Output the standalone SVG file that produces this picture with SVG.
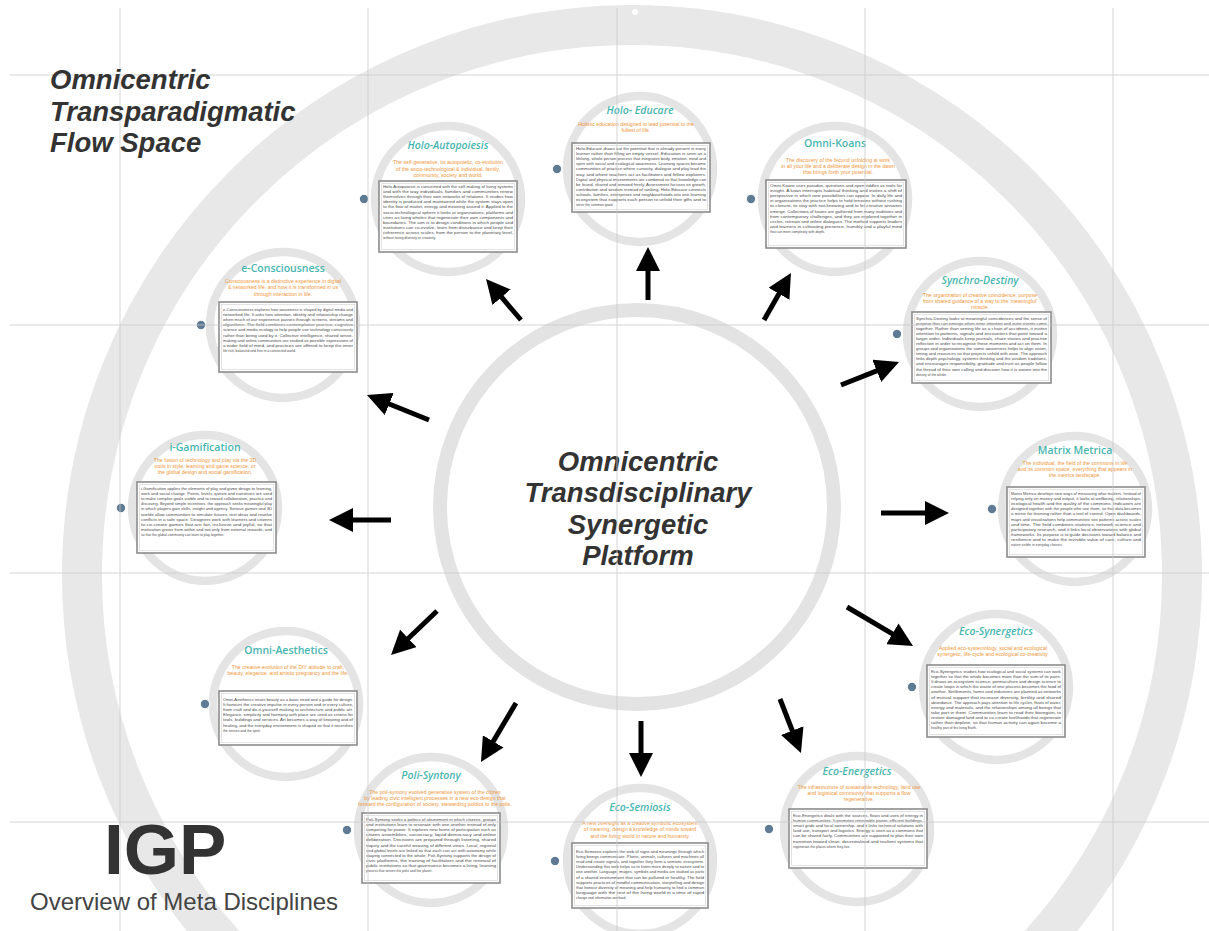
<svg xmlns="http://www.w3.org/2000/svg" width="1209" height="931" viewBox="0 0 1209 931">
  <style>
    .grid { stroke: #c9c9c9; stroke-width: 1; opacity: 0.75; }
    .big-ring { fill: none; stroke: #e8e8e8; stroke-width: 40; }
    .hub-ring { fill: #fff; stroke: #e3e3e3; stroke-width: 14; }
    .hub-text { font-family: "Liberation Sans", Arial, sans-serif; font-size: 27.5px; font-weight: bold; font-style: italic; fill: #333; text-anchor: middle; }
    .head-text { font-family: "Liberation Sans", Arial, sans-serif; font-size: 27.5px; font-weight: bold; font-style: italic; fill: #333; }
    .node-ring { fill: #fff; stroke: #e4e4e4; stroke-width: 8.5; }
    .title { font-family: "Open Sans", "Liberation Sans", sans-serif; font-size: 10.5px; font-weight: 600; fill: #48b6b0; text-anchor: middle; }
    .it { font-style: italic; }
    .sub { font-family: "Liberation Sans", Arial, sans-serif; font-size: 5.2px; fill: #f0963a; text-anchor: middle; }
    .card { fill: #fff; stroke: #8c8c8c; stroke-width: 1.6; }
    .card-in { fill: none; stroke: #e2e2e2; stroke-width: 1; }
    .body { font-family: "Liberation Sans", Arial, sans-serif; font-size: 3.4px; fill: #4a4a4a; }
    .dot { fill: #5e7b93; stroke: #fff; stroke-width: 1.2; }
    .arrow { fill: none; stroke: #000; stroke-width: 5; marker-end: url(#head); }
  </style>
  <defs>
    <marker id="head" markerUnits="userSpaceOnUse" markerWidth="24" markerHeight="24" refX="2" refY="12" orient="auto">
      <path d="M0,0 L24,12 L0,24 z" fill="#000"/>
    </marker>
  </defs>

  <rect width="1209" height="931" fill="#fff"/>

  <!-- outer flow ring -->
  <circle class="big-ring" cx="632" cy="575" r="550"/>
  <circle cx="635" cy="12" r="3" fill="#fff"/>

  <!-- central platform -->
  <g id="hub">
    <circle class="hub-ring" cx="637" cy="507" r="197"/>
    <text class="hub-text" x="638" y="471">Omnicentric</text>
    <text class="hub-text" x="638" y="502">Transdisciplinary</text>
    <text class="hub-text" x="638" y="534">Synergetic</text>
    <text class="hub-text" x="638" y="565">Platform</text>
  </g>

  <!-- Holo-Autopoiesis -->
  <g id="node-holo-autopoiesis">
    <circle class="node-ring" cx="448" cy="199" r="73"/>
    <text class="title it" x="448" y="149">Holo-Autopoiesis</text>
    <text class="sub" x="448" y="164">The self-generative, its autopoietic, co-evolution</text>
    <text class="sub" x="448" y="170.5">of the socio-technological &amp; individual, family,</text>
    <text class="sub" x="448" y="177">community, society and world.</text>
    <rect class="card" x="379" y="181" width="138" height="71"/>
    <rect class="card-in" x="381.5" y="183.5" width="133" height="66"/>
    <g class="body">
      <text x="383" y="188" textLength="130" lengthAdjust="spacingAndGlyphs">Holo-Autopoiesis is concerned with the self-making of living systems</text>
      <text x="383" y="193.1" textLength="130" lengthAdjust="spacingAndGlyphs">and with the way individuals, families and communities renew</text>
      <text x="383" y="198.2" textLength="130" lengthAdjust="spacingAndGlyphs">themselves through their own networks of relations. It studies how</text>
      <text x="383" y="203.3" textLength="130" lengthAdjust="spacingAndGlyphs">identity is produced and maintained while the system stays open</text>
      <text x="383" y="208.4" textLength="130" lengthAdjust="spacingAndGlyphs">to the flow of matter, energy and meaning around it. Applied to the</text>
      <text x="383" y="213.5" textLength="130" lengthAdjust="spacingAndGlyphs">socio-technological sphere it looks at organisations, platforms and</text>
      <text x="383" y="218.6" textLength="130" lengthAdjust="spacingAndGlyphs">cities as living wholes that regenerate their own components and</text>
      <text x="383" y="223.7" textLength="130" lengthAdjust="spacingAndGlyphs">boundaries. The aim is to design conditions in which people and</text>
      <text x="383" y="228.8" textLength="130" lengthAdjust="spacingAndGlyphs">institutions can co-evolve, learn from disturbance and keep their</text>
      <text x="383" y="233.9" textLength="130" lengthAdjust="spacingAndGlyphs">coherence across scales, from the person to the planetary level,</text>
      <text x="383" y="239">without losing diversity or creativity.</text>
    </g>
    <circle class="dot" cx="364" cy="199" r="4.8"/>
  </g>

  <!-- Holo-Educare -->
  <g id="node-holo-educare">
    <circle class="node-ring" cx="640" cy="169" r="73"/>
    <text class="title it" x="640" y="114">Holo- Educare</text>
    <text class="sub" x="636" y="126">Holistic education designed to lead potential to the</text>
    <text class="sub" x="636" y="132">fullest of life.</text>
    <rect class="card" x="572" y="143" width="138" height="69"/>
    <rect class="card-in" x="574.5" y="145.5" width="133" height="64"/>
    <g class="body">
      <text x="576" y="150" textLength="130" lengthAdjust="spacingAndGlyphs">Holo-Educare draws out the potential that is already present in every</text>
      <text x="576" y="155.1" textLength="130" lengthAdjust="spacingAndGlyphs">learner rather than filling an empty vessel. Education is seen as a</text>
      <text x="576" y="160.2" textLength="130" lengthAdjust="spacingAndGlyphs">lifelong, whole-person process that integrates body, emotion, mind and</text>
      <text x="576" y="165.3" textLength="130" lengthAdjust="spacingAndGlyphs">spirit with social and ecological awareness. Learning spaces become</text>
      <text x="576" y="170.4" textLength="130" lengthAdjust="spacingAndGlyphs">communities of practice where curiosity, dialogue and play lead the</text>
      <text x="576" y="175.5" textLength="130" lengthAdjust="spacingAndGlyphs">way, and where teachers act as facilitators and fellow explorers.</text>
      <text x="576" y="180.6" textLength="130" lengthAdjust="spacingAndGlyphs">Digital and physical environments are combined so that knowledge can</text>
      <text x="576" y="185.7" textLength="130" lengthAdjust="spacingAndGlyphs">be found, shared and remixed freely. Assessment focuses on growth,</text>
      <text x="576" y="190.8" textLength="130" lengthAdjust="spacingAndGlyphs">contribution and wisdom instead of ranking. Holo-Educare connects</text>
      <text x="576" y="195.9" textLength="130" lengthAdjust="spacingAndGlyphs">schools, families, enterprises and neighbourhoods into one learning</text>
      <text x="576" y="201" textLength="130" lengthAdjust="spacingAndGlyphs">ecosystem that supports each person to unfold their gifts and to</text>
      <text x="576" y="206.1">serve the common good.</text>
    </g>
    <circle class="dot" cx="557" cy="169" r="4.8"/>
  </g>

  <!-- Omni-Koans -->
  <g id="node-omni-koans">
    <circle class="node-ring" cx="835" cy="199" r="73"/>
    <text class="title" x="835" y="147">Omni-Koans</text>
    <text class="sub" x="838" y="162">The discovery of the fecund unfolding at work</text>
    <text class="sub" x="838" y="168">in all your life and a deliberate design in the dawn</text>
    <text class="sub" x="838" y="174">that brings forth your potential.</text>
    <rect class="card" x="766" y="180" width="140" height="68"/>
    <rect class="card-in" x="768.5" y="182.5" width="135" height="63"/>
    <g class="body">
      <text x="770" y="187" textLength="132" lengthAdjust="spacingAndGlyphs">Omni-Koans uses paradox, questions and open riddles as tools for</text>
      <text x="770" y="192.1" textLength="132" lengthAdjust="spacingAndGlyphs">insight. A koan interrupts habitual thinking and invites a shift of</text>
      <text x="770" y="197.2" textLength="132" lengthAdjust="spacingAndGlyphs">perspective in which new possibilities can appear. In daily life and</text>
      <text x="770" y="202.3" textLength="132" lengthAdjust="spacingAndGlyphs">in organisations the practice helps to hold tensions without rushing</text>
      <text x="770" y="207.4" textLength="132" lengthAdjust="spacingAndGlyphs">to closure, to stay with not-knowing and to let creative answers</text>
      <text x="770" y="212.5" textLength="132" lengthAdjust="spacingAndGlyphs">emerge. Collections of koans are gathered from many traditions and</text>
      <text x="770" y="217.6" textLength="132" lengthAdjust="spacingAndGlyphs">from contemporary challenges, and they are explored together in</text>
      <text x="770" y="222.7" textLength="132" lengthAdjust="spacingAndGlyphs">circles, retreats and online dialogues. The method supports leaders</text>
      <text x="770" y="227.8" textLength="132" lengthAdjust="spacingAndGlyphs">and learners in cultivating presence, humility and a playful mind</text>
      <text x="770" y="232.9">that can meet complexity with depth.</text>
    </g>
    <circle class="dot" cx="751" cy="199" r="4.8"/>
  </g>

  <!-- e-Consciousness -->
  <g id="node-e-consciousness">
    <circle class="node-ring" cx="283" cy="325" r="73"/>
    <text class="title" x="283" y="272">e-Consciousness</text>
    <text class="sub" x="283" y="283">Consciousness is a distinctive experience in digital</text>
    <text class="sub" x="283" y="289">&amp; networked life, and how it is transformed in us</text>
    <text class="sub" x="283" y="295.5">through interaction in life.</text>
    <rect class="card" x="219" y="302" width="138" height="70"/>
    <rect class="card-in" x="221.5" y="304.5" width="133" height="65"/>
    <g class="body">
      <text x="223" y="311" textLength="130" lengthAdjust="spacingAndGlyphs">e-Consciousness explores how awareness is shaped by digital media and</text>
      <text x="223" y="316.1" textLength="130" lengthAdjust="spacingAndGlyphs">networked life. It asks how attention, identity and relationship change</text>
      <text x="223" y="321.2" textLength="130" lengthAdjust="spacingAndGlyphs">when much of our experience passes through screens, streams and</text>
      <text x="223" y="326.3" textLength="130" lengthAdjust="spacingAndGlyphs">algorithms. The field combines contemplative practice, cognitive</text>
      <text x="223" y="331.4" textLength="130" lengthAdjust="spacingAndGlyphs">science and media ecology to help people use technology consciously</text>
      <text x="223" y="336.5" textLength="130" lengthAdjust="spacingAndGlyphs">rather than being used by it. Collective intelligence, shared sense-</text>
      <text x="223" y="341.6" textLength="130" lengthAdjust="spacingAndGlyphs">making and online communities are studied as possible expressions of</text>
      <text x="223" y="346.7" textLength="130" lengthAdjust="spacingAndGlyphs">a wider field of mind, and practices are offered to keep the inner</text>
      <text x="223" y="351.8">life rich, balanced and free in a connected world.</text>
    </g>
    <circle class="dot" cx="201" cy="325" r="4.8"/>
  </g>

  <!-- Synchro-Destiny -->
  <g id="node-synchro-destiny">
    <circle class="node-ring" cx="980" cy="334" r="73"/>
    <text class="title it" x="980" y="284">Synchro-Destiny</text>
    <text class="sub" x="980" y="297">The organization of creative coincidence, purpose</text>
    <text class="sub" x="980" y="303">from shared guidance of a way to the 'meaningful'</text>
    <text class="sub" x="980" y="309">miracle.</text>
    <rect class="card" x="912" y="312" width="139" height="71"/>
    <rect class="card-in" x="914.5" y="314.5" width="134" height="66"/>
    <g class="body">
      <text x="916" y="319.5" textLength="131" lengthAdjust="spacingAndGlyphs">Synchro-Destiny looks at meaningful coincidences and the sense of</text>
      <text x="916" y="324.6" textLength="131" lengthAdjust="spacingAndGlyphs">purpose that can emerge when inner intention and outer events come</text>
      <text x="916" y="329.7" textLength="131" lengthAdjust="spacingAndGlyphs">together. Rather than seeing life as a chain of accidents, it invites</text>
      <text x="916" y="334.8" textLength="131" lengthAdjust="spacingAndGlyphs">attention to patterns, signals and encounters that point toward a</text>
      <text x="916" y="339.9" textLength="131" lengthAdjust="spacingAndGlyphs">larger order. Individuals keep journals, share stories and practise</text>
      <text x="916" y="345" textLength="131" lengthAdjust="spacingAndGlyphs">reflection in order to recognise these moments and act on them. In</text>
      <text x="916" y="350.1" textLength="131" lengthAdjust="spacingAndGlyphs">groups and organisations the same awareness helps to align vision,</text>
      <text x="916" y="355.2" textLength="131" lengthAdjust="spacingAndGlyphs">timing and resources so that projects unfold with ease. The approach</text>
      <text x="916" y="360.3" textLength="131" lengthAdjust="spacingAndGlyphs">links depth psychology, systems thinking and the wisdom traditions,</text>
      <text x="916" y="365.4" textLength="131" lengthAdjust="spacingAndGlyphs">and encourages responsibility, gratitude and trust as people follow</text>
      <text x="916" y="370.5" textLength="131" lengthAdjust="spacingAndGlyphs">the thread of their own calling and discover how it is woven into the</text>
      <text x="916" y="375.6">destiny of the whole.</text>
    </g>
    <circle class="dot" cx="897" cy="334" r="4.8"/>
  </g>

  <!-- i-Gamification -->
  <g id="node-i-gamification">
    <circle class="node-ring" cx="205" cy="508" r="73"/>
    <text class="title" x="205" y="451">i-Gamification</text>
    <text class="sub" x="205" y="462">The fusion of technology and play via the 3D</text>
    <text class="sub" x="205" y="468">tools in style, learning and game science, or</text>
    <text class="sub" x="205" y="474">the global design and social gamification.</text>
    <rect class="card" x="137" y="482" width="139" height="71"/>
    <rect class="card-in" x="139.5" y="484.5" width="134" height="66"/>
    <g class="body">
      <text x="141" y="490" textLength="131" lengthAdjust="spacingAndGlyphs">i-Gamification applies the elements of play and game design to learning,</text>
      <text x="141" y="495.1" textLength="131" lengthAdjust="spacingAndGlyphs">work and social change. Points, levels, quests and narratives are used</text>
      <text x="141" y="500.2" textLength="131" lengthAdjust="spacingAndGlyphs">to make complex goals visible and to reward collaboration, practice and</text>
      <text x="141" y="505.3" textLength="131" lengthAdjust="spacingAndGlyphs">discovery. Beyond simple incentives, the approach seeks meaningful play</text>
      <text x="141" y="510.4" textLength="131" lengthAdjust="spacingAndGlyphs">in which players gain skills, insight and agency. Serious games and 3D</text>
      <text x="141" y="515.5" textLength="131" lengthAdjust="spacingAndGlyphs">worlds allow communities to simulate futures, test ideas and resolve</text>
      <text x="141" y="520.6" textLength="131" lengthAdjust="spacingAndGlyphs">conflicts in a safe space. Designers work with learners and citizens</text>
      <text x="141" y="525.7" textLength="131" lengthAdjust="spacingAndGlyphs">to co-create games that are fair, inclusive and joyful, so that</text>
      <text x="141" y="530.8" textLength="131" lengthAdjust="spacingAndGlyphs">motivation grows from within and not only from external rewards, and</text>
      <text x="141" y="535.9">so that the global community can learn to play together.</text>
    </g>
    <circle class="dot" cx="121" cy="508" r="4.8"/>
  </g>

  <!-- Matrix Metrica -->
  <g id="node-matrix-metrica">
    <circle class="node-ring" cx="1075" cy="509" r="73"/>
    <text class="title" x="1075" y="454">Matrix Metrica</text>
    <text class="sub" x="1075" y="465">The individual, the field of the commons in life</text>
    <text class="sub" x="1075" y="471">and its common space, everything that appears in</text>
    <text class="sub" x="1075" y="477">the metrics landscape.</text>
    <rect class="card" x="1007" y="487" width="138" height="70"/>
    <rect class="card-in" x="1009.5" y="489.5" width="133" height="65"/>
    <g class="body">
      <text x="1011" y="495" textLength="130" lengthAdjust="spacingAndGlyphs">Matrix Metrica develops new ways of measuring what matters. Instead of</text>
      <text x="1011" y="500.1" textLength="130" lengthAdjust="spacingAndGlyphs">relying only on money and output, it looks at wellbeing, relationships,</text>
      <text x="1011" y="505.2" textLength="130" lengthAdjust="spacingAndGlyphs">ecological health and the quality of the commons. Indicators are</text>
      <text x="1011" y="510.3" textLength="130" lengthAdjust="spacingAndGlyphs">designed together with the people who use them, so that data becomes</text>
      <text x="1011" y="515.4" textLength="130" lengthAdjust="spacingAndGlyphs">a mirror for learning rather than a tool of control. Open dashboards,</text>
      <text x="1011" y="520.5" textLength="130" lengthAdjust="spacingAndGlyphs">maps and visualisations help communities see patterns across scales</text>
      <text x="1011" y="525.6" textLength="130" lengthAdjust="spacingAndGlyphs">and time. The field combines statistics, network science and</text>
      <text x="1011" y="530.7" textLength="130" lengthAdjust="spacingAndGlyphs">participatory research, and it links local observations with global</text>
      <text x="1011" y="535.8" textLength="130" lengthAdjust="spacingAndGlyphs">frameworks. Its purpose is to guide decisions toward balance and</text>
      <text x="1011" y="540.9" textLength="130" lengthAdjust="spacingAndGlyphs">resilience and to make the invisible value of care, culture and</text>
      <text x="1011" y="546">nature visible in everyday choices.</text>
    </g>
    <circle class="dot" cx="992" cy="509" r="4.8"/>
  </g>

  <!-- Omni-Aesthetics -->
  <g id="node-omni-aesthetics">
    <circle class="node-ring" cx="286" cy="704" r="73"/>
    <text class="title" x="286" y="654">Omni-Aesthetics</text>
    <text class="sub" x="288" y="669">The creative evolution of the DIY attitude to craft,</text>
    <text class="sub" x="288" y="675">beauty, elegance, and artistic pregnancy and the life.</text>
    <rect class="card" x="219" y="691" width="138" height="54"/>
    <rect class="card-in" x="221.5" y="693.5" width="133" height="49"/>
    <g class="body">
      <text x="223" y="701" textLength="130" lengthAdjust="spacingAndGlyphs">Omni-Aesthetics treats beauty as a basic need and a guide for design.</text>
      <text x="223" y="706.1" textLength="130" lengthAdjust="spacingAndGlyphs">It honours the creative impulse in every person and in every culture,</text>
      <text x="223" y="711.2" textLength="130" lengthAdjust="spacingAndGlyphs">from craft and do-it-yourself making to architecture and public art.</text>
      <text x="223" y="716.3" textLength="130" lengthAdjust="spacingAndGlyphs">Elegance, simplicity and harmony with place are used as criteria for</text>
      <text x="223" y="721.4" textLength="130" lengthAdjust="spacingAndGlyphs">tools, buildings and services. Art becomes a way of knowing and of</text>
      <text x="223" y="726.5" textLength="130" lengthAdjust="spacingAndGlyphs">healing, and the everyday environment is shaped so that it nourishes</text>
      <text x="223" y="731.6">the senses and the spirit.</text>
    </g>
    <circle class="dot" cx="205" cy="704" r="4.8"/>
  </g>

  <!-- Eco-Synergetics -->
  <g id="node-eco-synergetics">
    <circle class="node-ring" cx="996" cy="687" r="73"/>
    <text class="title it" x="996" y="635">Eco-Synergetics</text>
    <text class="sub" x="993" y="650">Applied eco-systemology, social and ecological</text>
    <text class="sub" x="993" y="656">synergetic, life-cycle and ecological co-creativity.</text>
    <rect class="card" x="927" y="665" width="138" height="72"/>
    <rect class="card-in" x="929.5" y="667.5" width="133" height="67"/>
    <g class="body">
      <text x="931" y="673" textLength="130" lengthAdjust="spacingAndGlyphs">Eco-Synergetics studies how ecological and social systems can work</text>
      <text x="931" y="678.1" textLength="130" lengthAdjust="spacingAndGlyphs">together so that the whole becomes more than the sum of its parts.</text>
      <text x="931" y="683.2" textLength="130" lengthAdjust="spacingAndGlyphs">It draws on ecosystem science, permaculture and design science to</text>
      <text x="931" y="688.3" textLength="130" lengthAdjust="spacingAndGlyphs">create loops in which the waste of one process becomes the food of</text>
      <text x="931" y="693.4" textLength="130" lengthAdjust="spacingAndGlyphs">another. Settlements, farms and industries are planned as networks</text>
      <text x="931" y="698.5" textLength="130" lengthAdjust="spacingAndGlyphs">of mutual support that increase diversity, fertility and shared</text>
      <text x="931" y="703.6" textLength="130" lengthAdjust="spacingAndGlyphs">abundance. The approach pays attention to life cycles, flows of water,</text>
      <text x="931" y="708.7" textLength="130" lengthAdjust="spacingAndGlyphs">energy and materials, and the relationships among all beings that</text>
      <text x="931" y="713.8" textLength="130" lengthAdjust="spacingAndGlyphs">take part in them. Communities learn to read their bioregion, to</text>
      <text x="931" y="718.9" textLength="130" lengthAdjust="spacingAndGlyphs">restore damaged land and to co-create livelihoods that regenerate</text>
      <text x="931" y="724" textLength="130" lengthAdjust="spacingAndGlyphs">rather than deplete, so that human activity can again become a</text>
      <text x="931" y="729.1">healthy part of the living Earth.</text>
    </g>
    <circle class="dot" cx="912" cy="687" r="4.8"/>
  </g>

  <!-- Poli-Syntony -->
  <g id="node-poli-syntony">
    <circle class="node-ring" cx="431" cy="830" r="73"/>
    <text class="title it" x="431" y="779">Poli-Syntony</text>
    <text class="sub" x="435" y="794">The poli-syntony evolved generative system of the citizen</text>
    <text class="sub" x="435" y="800">by leading civic intelligent processes in a new eco-design that</text>
    <text class="sub" x="435" y="806">forward the configuration of society, stewarding politics to the polis.</text>
    <rect class="card" x="362" y="813" width="138" height="70"/>
    <rect class="card-in" x="364.5" y="815.5" width="133" height="65"/>
    <g class="body">
      <text x="366" y="821" textLength="130" lengthAdjust="spacingAndGlyphs">Poli-Syntony seeks a politics of attunement in which citizens, groups</text>
      <text x="366" y="826.1" textLength="130" lengthAdjust="spacingAndGlyphs">and institutions learn to resonate with one another instead of only</text>
      <text x="366" y="831.2" textLength="130" lengthAdjust="spacingAndGlyphs">competing for power. It explores new forms of participation such as</text>
      <text x="366" y="836.3" textLength="130" lengthAdjust="spacingAndGlyphs">citizen assemblies, sociocracy, liquid democracy and online</text>
      <text x="366" y="841.4" textLength="130" lengthAdjust="spacingAndGlyphs">deliberation. Decisions are prepared through listening, shared</text>
      <text x="366" y="846.5" textLength="130" lengthAdjust="spacingAndGlyphs">inquiry and the careful weaving of different views. Local, regional</text>
      <text x="366" y="851.6" textLength="130" lengthAdjust="spacingAndGlyphs">and global levels are linked so that each can act with autonomy while</text>
      <text x="366" y="856.7" textLength="130" lengthAdjust="spacingAndGlyphs">staying connected to the whole. Poli-Syntony supports the design of</text>
      <text x="366" y="861.8" textLength="130" lengthAdjust="spacingAndGlyphs">civic platforms, the training of facilitators and the renewal of</text>
      <text x="366" y="866.9" textLength="130" lengthAdjust="spacingAndGlyphs">public institutions so that governance becomes a living, learning</text>
      <text x="366" y="872">process that serves the polis and the planet.</text>
    </g>
    <circle class="dot" cx="347" cy="830" r="4.8"/>
  </g>

  <!-- Eco-Semiosis -->
  <g id="node-eco-semiosis">
    <circle class="node-ring" cx="640" cy="861" r="73"/>
    <text class="title it" x="640" y="811">Eco-Semiosis</text>
    <text class="sub" x="640" y="825">A new oversight as a creative symbolic ecosystem</text>
    <text class="sub" x="640" y="831">of meaning; design a knowledge of minds toward</text>
    <text class="sub" x="640" y="837.5">and the living world in nature and humanity.</text>
    <rect class="card" x="572" y="843" width="136" height="65"/>
    <rect class="card-in" x="574.5" y="845.5" width="131" height="60"/>
    <g class="body">
      <text x="576" y="853" textLength="128" lengthAdjust="spacingAndGlyphs">Eco-Semiosis explores the web of signs and meanings through which</text>
      <text x="576" y="858.1" textLength="128" lengthAdjust="spacingAndGlyphs">living beings communicate. Plants, animals, cultures and machines all</text>
      <text x="576" y="863.2" textLength="128" lengthAdjust="spacingAndGlyphs">read and create signals, and together they form a semiotic ecosystem.</text>
      <text x="576" y="868.3" textLength="128" lengthAdjust="spacingAndGlyphs">Understanding this web helps us to listen more deeply to nature and to</text>
      <text x="576" y="873.4" textLength="128" lengthAdjust="spacingAndGlyphs">one another. Language, images, symbols and media are studied as parts</text>
      <text x="576" y="878.5" textLength="128" lengthAdjust="spacingAndGlyphs">of a shared environment that can be polluted or healthy. The field</text>
      <text x="576" y="883.6" textLength="128" lengthAdjust="spacingAndGlyphs">supports practices of mindful communication, storytelling and design</text>
      <text x="576" y="888.7" textLength="128" lengthAdjust="spacingAndGlyphs">that honour diversity of meaning and help humanity to find a common</text>
      <text x="576" y="893.8" textLength="128" lengthAdjust="spacingAndGlyphs">language with the rest of the living world in a time of rapid</text>
      <text x="576" y="898.9">change and information overload.</text>
    </g>
    <circle class="dot" cx="555" cy="861" r="4.8"/>
  </g>

  <!-- Eco-Energetics -->
  <g id="node-eco-energetics">
    <circle class="node-ring" cx="857" cy="829" r="73"/>
    <text class="title it" x="857" y="775">Eco-Energetics</text>
    <text class="sub" x="859" y="789">The infrastructure of sustainable technology, land use</text>
    <text class="sub" x="859" y="795">and logistical community that supports a flow</text>
    <text class="sub" x="859" y="801">regenerative.</text>
    <rect class="card" x="789" y="809" width="138" height="59"/>
    <rect class="card-in" x="791.5" y="811.5" width="133" height="54"/>
    <g class="body">
      <text x="793" y="817" textLength="130" lengthAdjust="spacingAndGlyphs">Eco-Energetics deals with the sources, flows and uses of energy in</text>
      <text x="793" y="822.1" textLength="130" lengthAdjust="spacingAndGlyphs">human communities. It promotes renewable power, efficient buildings,</text>
      <text x="793" y="827.2" textLength="130" lengthAdjust="spacingAndGlyphs">smart grids and local ownership, and it links technical solutions with</text>
      <text x="793" y="832.3" textLength="130" lengthAdjust="spacingAndGlyphs">land use, transport and logistics. Energy is seen as a commons that</text>
      <text x="793" y="837.4" textLength="130" lengthAdjust="spacingAndGlyphs">can be shared fairly. Communities are supported to plan their own</text>
      <text x="793" y="842.5" textLength="130" lengthAdjust="spacingAndGlyphs">transition toward clean, decentralised and resilient systems that</text>
      <text x="793" y="847.6">regenerate the places where they live.</text>
    </g>
    <circle class="dot" cx="769" cy="829" r="4.8"/>
  </g>

  <!-- guide grid, drawn over the nodes -->
  <g id="grid" class="grid">
    <line x1="120" y1="8" x2="120" y2="931"/>
    <line x1="368" y1="8" x2="368" y2="931"/>
    <line x1="617" y1="8" x2="617" y2="931"/>
    <line x1="865" y1="8" x2="865" y2="931"/>
    <line x1="1113" y1="8" x2="1113" y2="931"/>
    <line x1="10" y1="75" x2="1209" y2="75"/>
    <line x1="10" y1="325" x2="1209" y2="325"/>
    <line x1="10" y1="573" x2="1209" y2="573"/>
    <line x1="10" y1="822" x2="1209" y2="822"/>
  </g>

  <!-- arrows from the platform out to each discipline -->
  <g id="connectors">
    <line class="arrow" x1="648" y1="300" x2="648" y2="269"/>
    <line class="arrow" x1="521" y1="320" x2="500.3" y2="295.7"/>
    <line class="arrow" x1="764" y1="320" x2="780" y2="292.1"/>
    <line class="arrow" x1="429" y1="420" x2="387.4" y2="403.2"/>
    <line class="arrow" x1="841" y1="385" x2="878.6" y2="370.1"/>
    <line class="arrow" x1="391" y1="520" x2="351" y2="520"/>
    <line class="arrow" x1="881" y1="513" x2="927" y2="513"/>
    <line class="arrow" x1="437" y1="611" x2="406.9" y2="639.8"/>
    <line class="arrow" x1="847" y1="607" x2="894.1" y2="634.8"/>
    <line class="arrow" x1="516" y1="703" x2="492.2" y2="743.1"/>
    <line class="arrow" x1="641" y1="721" x2="641" y2="755"/>
    <line class="arrow" x1="780" y1="699" x2="793" y2="732.5"/>
  </g>

  <!-- heading and footer -->
  <g id="heading">
    <text class="head-text" x="50" y="89">Omnicentric</text>
    <text class="head-text" x="50" y="121">Transparadigmatic</text>
    <text class="head-text" x="50" y="152">Flow Space</text>
  </g>
  <g id="footer">
    <text x="104" y="874" font-family="Liberation Sans, Arial, sans-serif" font-size="71" font-weight="bold" fill="#333">IGP</text>
    <text x="30" y="910" font-family="Liberation Sans, Arial, sans-serif" font-size="24" fill="#444">Overview of Meta Disciplines</text>
  </g>
</svg>
